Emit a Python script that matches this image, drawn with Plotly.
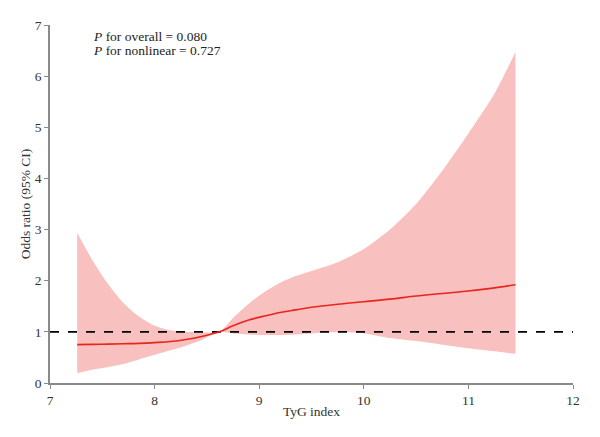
import plotly.graph_objects as go

tyg = [7.26, 7.4, 7.55, 7.7, 7.85, 8.0, 8.15, 8.3, 8.45, 8.62, 8.75, 8.9, 9.05, 9.2,
       9.35, 9.5, 9.75, 10.0, 10.25, 10.5, 10.75, 11.0, 11.25, 11.45]
or_center = [0.75, 0.755, 0.76, 0.767, 0.775, 0.79, 0.81, 0.85, 0.91, 1.0, 1.12, 1.23,
             1.31, 1.38, 1.43, 1.48, 1.54, 1.59, 1.64, 1.70, 1.75, 1.80, 1.86, 1.92]
or_lower = [0.19, 0.26, 0.31, 0.37, 0.46, 0.55, 0.64, 0.73, 0.84, 1.0, 0.97, 0.95,
            0.94, 0.94, 0.95, 0.97, 0.99, 0.97, 0.88, 0.82, 0.75, 0.68, 0.62, 0.57]
or_upper = [2.94, 2.42, 1.95, 1.57, 1.30, 1.12, 1.03, 1.00, 0.99, 1.0, 1.27, 1.55,
            1.78, 1.96, 2.09, 2.19, 2.36, 2.62, 3.00, 3.50, 4.15, 4.88, 5.66, 6.47]
ref_x = [7, 12]
ref_y = [1, 1]
x_ticks = [7, 8, 9, 10, 11, 12]
y_ticks = [0, 1, 2, 3, 4, 5, 6, 7]
p_texts = ["<i>P</i> for overall = 0.080", "<i>P</i> for nonlinear = 0.727"]

FONT = "Liberation Serif"
fig = go.Figure()
fig.add_trace(go.Scatter(x=tyg, y=or_lower, mode="lines", line=dict(width=0, shape="spline", smoothing=0.7),
                         showlegend=False, hoverinfo="skip"))
fig.add_trace(go.Scatter(x=tyg, y=or_upper, mode="lines", line=dict(width=0, shape="spline", smoothing=0.7),
                         fill="tonexty", fillcolor="#F8C0BE", showlegend=False))
fig.add_trace(go.Scatter(x=ref_x, y=ref_y, mode="lines",
                         line=dict(color="black", width=1.8, dash="dash"), showlegend=False))
fig.add_trace(go.Scatter(x=tyg, y=or_center, mode="lines",
                         line=dict(color="#E8261E", width=1.6, shape="spline"), showlegend=False))

axis_common = dict(showgrid=False, zeroline=False, showline=True, linecolor="#8a8a8a",
                   linewidth=1.5, ticks="outside", ticklen=4, tickcolor="#8a8a8a",
                   tickfont=dict(family=FONT, size=13.5, color="#333"))
fig.update_xaxes(range=[7, 12], tickvals=x_ticks,
                 title=dict(text="TyG index", font=dict(family=FONT, size=13.5, color="#333"),
                            standoff=0), **axis_common)
fig.update_yaxes(range=[0, 7], tickvals=y_ticks,
                 title=dict(text="Odds ratio (95% CI)", font=dict(family=FONT, size=13.5, color="#333"),
                            standoff=1), **axis_common)

for i, t in enumerate(p_texts):
    fig.add_annotation(x=0, y=1, xref="paper", yref="paper", xanchor="left", yanchor="middle",
                       xshift=41, yshift=-11 - 14 * i, showarrow=False, align="left",
                       text=t, font=dict(family=FONT, size=13.5, color="#222"))

fig.update_layout(width=600, height=437, plot_bgcolor="white", paper_bgcolor="white",
                  margin=dict(l=50, r=27, t=25, b=54), font=dict(family=FONT))
fig.write_html("out.html")
